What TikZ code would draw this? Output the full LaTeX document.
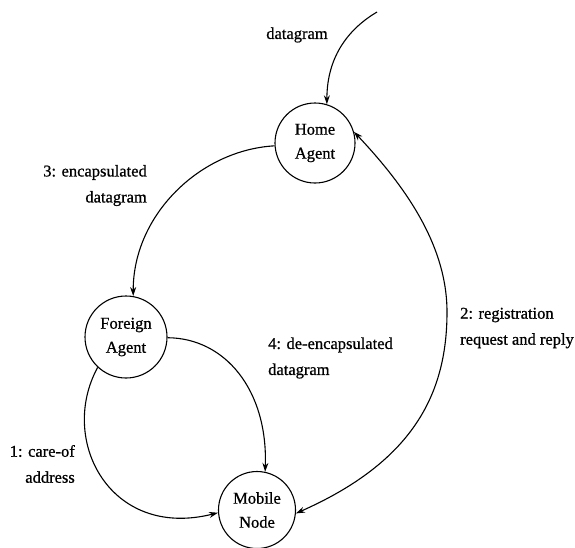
\documentclass[tikz,border=0pt]{standalone}
\usepackage{fontspec}
\setmainfont[FakeBold=0.8]{Liberation Serif}
\usetikzlibrary{arrows.meta}
\begin{document}
\begin{tikzpicture}[x=1pt,y=-1pt,
  agent/.style={draw,circle,line width=1.1pt,minimum size=80pt,inner sep=0pt,align=center,
    font=\fontsize{16.5}{24}\selectfont},
  lbl/.style={inner sep=0pt,font=\fontsize{16.5}{26}\selectfont},
  conn/.style={line width=1.1pt,-{Stealth[length=9pt,width=6pt]}},
  biconn/.style={line width=1.1pt,{Stealth[length=9pt,width=6pt]}-{Stealth[length=9pt,width=6pt]}}]
\useasboundingbox (0,0) rectangle (575,547);
\node[agent] (ha) at (315,143) {Home\\Agent};
\node[agent,minimum size=82pt] (fa) at (126,337) {Foreign\\Agent};
\node[agent,minimum size=77pt] (mn) at (257,510) {Mobile\\Node};
\coordinate (src) at (377,12);
\coordinate (r2) at (447,312);
\draw[conn] (src) .. controls (350,28) and (327,55) .. (ha.73);
\draw[conn] (ha.184) .. controls (200,150) and (133,215) .. (fa.80);
\draw[conn] (fa.359) .. controls (225,338) and (268,390) .. (mn.78);
\draw[conn] (fa.227) .. controls (58,440) and (110,540) .. (mn.184);
\draw[biconn] (ha.16) .. controls (405,186) and (447,245) .. (r2) .. controls (447,395) and (412,462) .. (mn.355);
\node[lbl] (l0) at (297,35) {datagram};
\node[lbl,anchor=east,align=right] (l3) at (147,185.5) {3: encapsulated\\datagram};
\node[lbl,anchor=west,align=left] (l4) at (268,358) {4: de-encapsulated\\datagram};
\node[lbl,anchor=west,align=left] (l2) at (460,328) {2: registration\\request and reply};
\node[lbl,anchor=east,align=right] (l1) at (75,464) {1: care-of\\address};
\end{tikzpicture}
\end{document}
